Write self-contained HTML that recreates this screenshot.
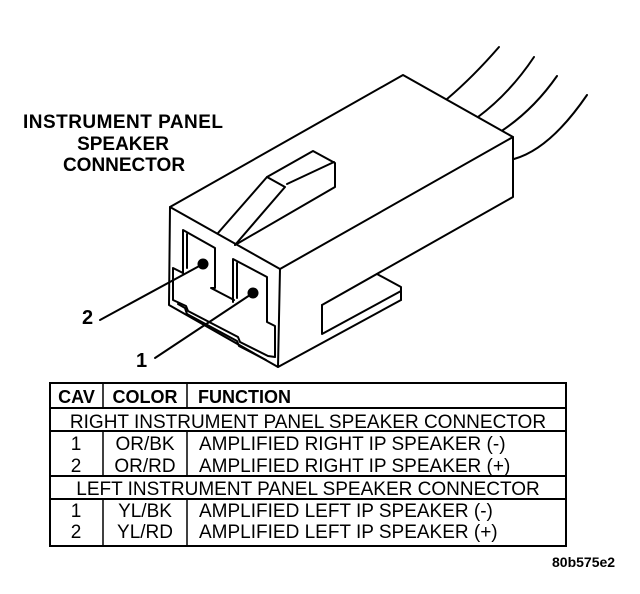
<!DOCTYPE html>
<html>
<head>
<meta charset="utf-8">
<style>
  html, body { margin:0; padding:0; background:#fff; }
  body { width:640px; height:594px; overflow:hidden; }
  svg { display:block; }
  text { font-family: "Liberation Sans", Arial, sans-serif; fill:#000; }
</style>
</head>
<body>
<svg width="640" height="594" viewBox="0 0 640 594" xmlns="http://www.w3.org/2000/svg">
  <rect x="0" y="0" width="640" height="594" fill="#fff"/>

  <!-- Title -->
  <g font-weight="bold" font-size="19" text-anchor="middle">
    <text x="123" y="128" textLength="200" lengthAdjust="spacing">INSTRUMENT PANEL</text>
    <text x="123" y="150">SPEAKER</text>
    <text x="124" y="171">CONNECTOR</text>
  </g>

  <g fill="none" stroke="#000" stroke-width="2" stroke-linejoin="round" stroke-linecap="round">
    <!-- wires -->
    <path d="M447,99 Q473,77 499,47"/>
    <path d="M478,117 Q510,93 534,57"/>
    <path d="M503,130 Q534,109 557,76"/>
    <path d="M514,159 Q550,149 587,95"/>

    <!-- top face -->
    <path d="M170,207 L403,75 L513,137 L280,269 Z"/>
    <!-- front face -->
    <path d="M170,207 L169,305 L278,367 L280,269"/>
    <!-- right face -->
    <path d="M513,137 L513,197 L322,305"/>
    <path d="M401,300 L278,367"/>
    <!-- side tab -->
    <path d="M377,274 L401,287 L401,300"/>
    <path d="M322,305 L322,334 L401,291"/>

    <!-- latch -->
    <path d="M218,233 L267,177 L313,151 L335,163 L335,187 L235,245"/>
    <path d="M267,177 L285,187 L235,245"/>
    <path d="M287,184 L334,162"/>

    <!-- left cavity -->
    <path d="M183,273 L183,230 L215,248 L215,288 L211,288 L234,300"/>
    <path d="M187,234 L187,268"/>
    <!-- right cavity -->
    <path d="M233,302 L233,259 L267,277 L267,322 L275,326 L275,357"/>
    <path d="M237,263 L237,298"/>
    <!-- lower inner outline -->
    <path d="M183,273 L173,268 L173,300 L186,306 L188,311 L238,337 L240,342 L268,356 L275,357"/>
    <path d="M178,304 L185,308 L187,314 L237,341 L239,346 L266,360"/>

    <!-- leader lines -->
    <path d="M100,320 L203,264"/>
    <path d="M155,358 L253,293"/>
  </g>

  <!-- pins -->
  <circle cx="203" cy="264" r="5.5" fill="#000"/>
  <circle cx="253" cy="293" r="5.5" fill="#000"/>

  <!-- callout numbers -->
  <g font-weight="bold" font-size="20">
    <text x="82" y="324">2</text>
    <text x="136" y="367">1</text>
  </g>

  <!-- Table -->
  <g fill="none" stroke="#000">
    <rect x="50" y="383" width="516" height="163" stroke-width="2"/>
    <line x1="50" y1="408" x2="566" y2="408" stroke-width="2"/>
    <line x1="50" y1="431" x2="566" y2="431" stroke-width="2"/>
    <line x1="50" y1="476" x2="566" y2="476" stroke-width="2"/>
    <line x1="50" y1="499" x2="566" y2="499" stroke-width="2"/>
    <line x1="103" y1="383" x2="103" y2="408" stroke-width="1.5"/>
    <line x1="187" y1="383" x2="187" y2="408" stroke-width="1.5"/>
    <line x1="103" y1="431" x2="103" y2="476" stroke-width="1.5"/>
    <line x1="187" y1="431" x2="187" y2="476" stroke-width="1.5"/>
    <line x1="103" y1="499" x2="103" y2="546" stroke-width="1.5"/>
    <line x1="187" y1="499" x2="187" y2="546" stroke-width="1.5"/>
  </g>

  <g font-weight="bold" font-size="18">
    <text x="76.5" y="403" text-anchor="middle">CAV</text>
    <text x="145" y="403" text-anchor="middle">COLOR</text>
    <text x="198" y="403">FUNCTION</text>
  </g>

  <g font-size="19">
    <text x="308" y="428" text-anchor="middle">RIGHT INSTRUMENT PANEL SPEAKER CONNECTOR</text>
    <text x="76" y="450" text-anchor="middle">1</text>
    <text x="145" y="450" text-anchor="middle">OR/BK</text>
    <text x="199" y="450">AMPLIFIED RIGHT IP SPEAKER (-)</text>
    <text x="76" y="472" text-anchor="middle">2</text>
    <text x="145" y="472" text-anchor="middle">OR/RD</text>
    <text x="199" y="472">AMPLIFIED RIGHT IP SPEAKER (+)</text>

    <text x="308" y="495" text-anchor="middle">LEFT INSTRUMENT PANEL SPEAKER CONNECTOR</text>
    <text x="76" y="517" text-anchor="middle">1</text>
    <text x="145" y="517" text-anchor="middle">YL/BK</text>
    <text x="199" y="517">AMPLIFIED LEFT IP SPEAKER (-)</text>
    <text x="76" y="538" text-anchor="middle">2</text>
    <text x="145" y="538" text-anchor="middle">YL/RD</text>
    <text x="199" y="538">AMPLIFIED LEFT IP SPEAKER (+)</text>
  </g>

  <text x="552" y="567" font-size="14" font-weight="bold">80b575e2</text>
</svg>
</body>
</html>
